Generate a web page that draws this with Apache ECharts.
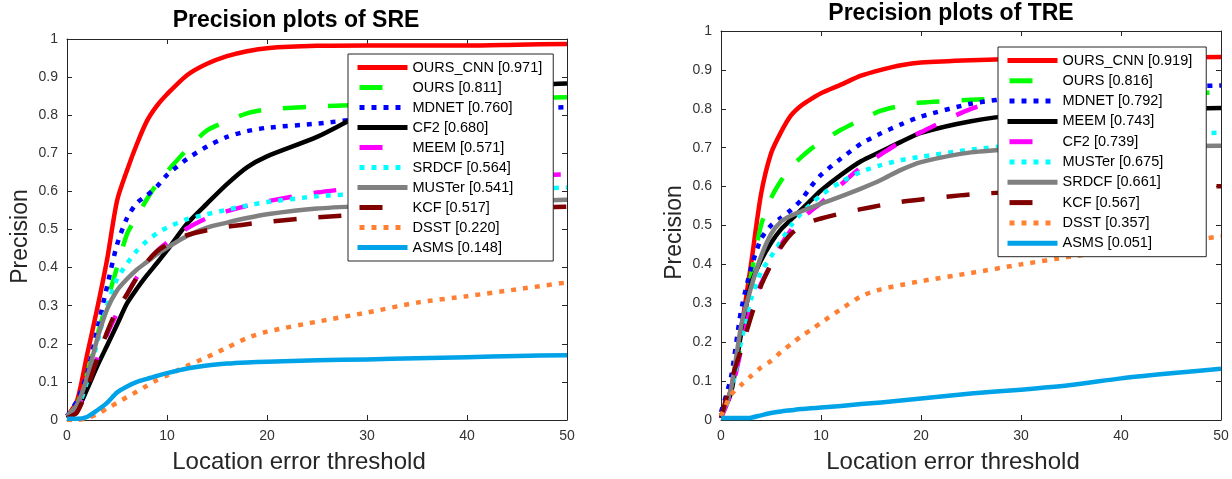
<!DOCTYPE html>
<html><head><meta charset="utf-8">
<script src="https://cdn.jsdelivr.net/npm/echarts@6/dist/echarts.min.js"></script>
<style>html,body{margin:0;padding:0;background:#fff}#c{width:1232px;height:479px}</style>
</head><body><div id="c"></div>
<script>
// ---------------- data ----------------
const thresholds = [0,1,2,3,4,5,6,7,8,9,10,12,14,16,18,20,25,30,35,40,45,50];

// SRE (left)
const sreMethods = ['OURS_CNN','OURS','MDNET','CF2','MEEM','SRDCF','MUSTer','KCF','DSST','ASMS'];
const sreScores  = ['0.971','0.811','0.760','0.680','0.571','0.564','0.541','0.517','0.220','0.148'];
const sreOursCnn = [0.01,0.05,0.17,0.29,0.42,0.575,0.655,0.725,0.785,0.825,0.855,0.905,0.935,0.955,0.968,0.976,0.982,0.983,0.983,0.983,0.985,0.987];
const sreOurs    = [0.01,0.04,0.12,0.22,0.31,0.40,0.488,0.535,0.58,0.62,0.652,0.71,0.76,0.784,0.805,0.815,0.823,0.828,0.835,0.84,0.844,0.847];
const sreMdnet   = [0.01,0.05,0.12,0.235,0.35,0.46,0.53,0.57,0.59,0.613,0.643,0.685,0.718,0.743,0.758,0.767,0.778,0.792,0.802,0.81,0.816,0.821];
const sreCf2     = [0.005,0.025,0.08,0.14,0.195,0.25,0.306,0.345,0.38,0.412,0.445,0.515,0.568,0.619,0.663,0.692,0.743,0.808,0.845,0.865,0.877,0.883];
const sreMeem    = [0.01,0.03,0.09,0.16,0.225,0.28,0.33,0.375,0.41,0.443,0.465,0.503,0.53,0.548,0.562,0.574,0.597,0.612,0.623,0.632,0.64,0.645];
const sreSrdcf   = [0.01,0.03,0.10,0.20,0.30,0.37,0.41,0.445,0.47,0.49,0.505,0.527,0.54,0.552,0.563,0.572,0.587,0.595,0.60,0.604,0.607,0.61];
const sreMuster  = [0.01,0.04,0.11,0.21,0.29,0.34,0.37,0.395,0.415,0.435,0.452,0.483,0.505,0.518,0.53,0.54,0.555,0.562,0.567,0.571,0.575,0.578];
const sreKcf     = [0.005,0.02,0.08,0.16,0.23,0.29,0.33,0.375,0.415,0.443,0.46,0.485,0.498,0.507,0.514,0.52,0.532,0.54,0.547,0.552,0.556,0.56];
const sreDsst    = [0.0,0.0,0.005,0.015,0.03,0.045,0.06,0.075,0.09,0.105,0.117,0.142,0.165,0.19,0.215,0.232,0.258,0.282,0.308,0.325,0.343,0.361];
const sreAsms    = [0.003,0.003,0.008,0.025,0.045,0.072,0.088,0.10,0.108,0.116,0.123,0.135,0.143,0.148,0.151,0.153,0.157,0.159,0.162,0.165,0.168,0.17];

// TRE (right)
const treMethods = ['OURS_CNN','OURS','MDNET','MEEM','CF2','MUSTer','SRDCF','KCF','DSST','ASMS'];
const treScores  = ['0.919','0.816','0.792','0.743','0.739','0.675','0.661','0.567','0.357','0.051'];
const treOursCnn = [0.01,0.08,0.23,0.40,0.58,0.685,0.74,0.783,0.808,0.825,0.84,0.862,0.885,0.90,0.912,0.919,0.925,0.928,0.93,0.931,0.932,0.933];
const treOurs    = [0.01,0.07,0.20,0.37,0.50,0.57,0.615,0.65,0.675,0.697,0.715,0.746,0.772,0.795,0.808,0.816,0.823,0.828,0.832,0.836,0.839,0.842];
const treMdnet   = [0.02,0.11,0.28,0.39,0.465,0.50,0.52,0.54,0.565,0.60,0.63,0.672,0.71,0.737,0.76,0.78,0.813,0.83,0.842,0.85,0.856,0.86];
const treMeem    = [0.01,0.07,0.22,0.35,0.41,0.455,0.49,0.515,0.54,0.565,0.59,0.63,0.665,0.69,0.715,0.738,0.768,0.785,0.793,0.797,0.80,0.802];
const treCf2     = [0.005,0.07,0.18,0.29,0.35,0.40,0.45,0.488,0.515,0.538,0.558,0.605,0.65,0.683,0.715,0.74,0.80,0.835,0.85,0.858,0.864,0.868];
const treMuster  = [0.01,0.07,0.20,0.31,0.38,0.42,0.46,0.50,0.53,0.555,0.578,0.612,0.638,0.655,0.668,0.677,0.695,0.708,0.718,0.726,0.733,0.739];
const treSrdcf   = [0.01,0.08,0.24,0.34,0.42,0.478,0.51,0.525,0.536,0.546,0.556,0.575,0.595,0.617,0.643,0.663,0.688,0.697,0.701,0.703,0.704,0.705];
const treKcf     = [0.005,0.10,0.18,0.265,0.345,0.40,0.445,0.478,0.497,0.51,0.518,0.531,0.542,0.552,0.561,0.567,0.58,0.587,0.592,0.596,0.599,0.601];
const treDsst    = [0.01,0.065,0.09,0.113,0.135,0.152,0.175,0.195,0.215,0.232,0.25,0.285,0.318,0.336,0.347,0.357,0.378,0.40,0.42,0.437,0.455,0.472];
const treAsms    = [0.005,0.005,0.005,0.006,0.012,0.018,0.022,0.025,0.028,0.03,0.032,0.036,0.041,0.045,0.05,0.055,0.068,0.078,0.09,0.107,0.12,0.132];

const sreValues = [sreOursCnn,sreOurs,sreMdnet,sreCf2,sreMeem,sreSrdcf,sreMuster,sreKcf,sreDsst,sreAsms];
const treValues = [treOursCnn,treOurs,treMdnet,treMeem,treCf2,treMuster,treSrdcf,treKcf,treDsst,treAsms];

// ---------------- styles (by rank) ----------------
const rankColors = ['#ff0000','#00ff00','#0000ff','#000000','#ff00ff','#00ffff','#808080','#800000','#ff8033','#00a2e8'];
const rankDash   = ['solid','dashed','dotted','solid','dashed','dotted','solid','dashed','dotted','solid'];
const FONT = 'Liberation Sans, Arial, Helvetica, sans-serif';
const LW = 4.5;
const DASH = [23, 22], DOT = [5, 7];

function lineType(t){ return t === 'dashed' ? DASH : (t === 'dotted' ? DOT : 'solid'); }
function legendLine(t){
  if (t === 'dashed') return {type:[23,40], dashOffset:61, width:5};
  if (t === 'dotted') return {type:[5,7], dashOffset:10, width:5};
  return {type:'solid', width:5};
}
function names(methods, scores){ return methods.map((m,i)=> m + ' [' + scores[i] + ']'); }

function buildSeries(nm, values, xi, yi){
  return nm.map((n,i)=>({
    name:n, type:'line', xAxisIndex:xi, yAxisIndex:yi,
    data: thresholds.map((x,k)=>[x, values[i][k]]),
    showSymbol:false, symbol:'none', smooth:0.25,
    lineStyle:{color:rankColors[i], width:LW, type:lineType(rankDash[i]), cap:'butt', join:'round'},
    itemStyle:{color:rankColors[i]},
    emphasis:{disabled:true}, silent:true, z:2
  }));
}

function axes(g){
  const lineC = '#262626';
  const common = {
    type:'value', gridIndex:g,
    axisLine:{show:true, onZero:false, lineStyle:{color:lineC, width:1}},
    axisTick:{show:true, inside:true, length:5, lineStyle:{color:lineC, width:1}},
    splitLine:{show:false}
  };
  const xb = Object.assign({}, common, {
    min:0, max:50, interval:10, position:'bottom',
    axisLabel:{color:'#333', fontSize:14, margin:9, fontFamily:FONT},
    name:'Location error threshold', nameLocation:'middle', nameGap:30,
    nameTextStyle:{fontSize:24, color:'#262626', fontFamily:FONT, padding:[0,36,0,0]}
  });
  const xt = Object.assign({}, common, {min:0, max:50, interval:10, position:'top', axisLabel:{show:false}});
  const yl = Object.assign({}, common, {
    min:0, max:1, interval:0.1, position:'left',
    axisLabel:{color:'#333', fontSize:14, margin:9, fontFamily:FONT},
    name:'Precision', nameLocation:'middle', nameGap:35,
    nameTextStyle:{fontSize:23, color:'#262626', fontFamily:FONT, padding:[0,14,0,0]}
  });
  const yr = Object.assign({}, common, {min:0, max:1, interval:0.1, position:'right', axisLabel:{show:false}});
  return {x:[xb, xt], y:[yl, yr]};
}

const sreNames = names(sreMethods, sreScores);
const treNames = names(treMethods, treScores);
const a0 = axes(0), a1 = axes(1);

function legend(nm, left, top, gap, padRight){
  return {
    show:true, orient:'vertical', left:left, top:top,
    data: nm.map((n,i)=>({name:n, lineStyle:legendLine(rankDash[i])})),
    itemWidth:50, itemHeight:14, itemGap:gap,
    padding:[6,padRight,6,7], borderColor:'#262626', borderWidth:1, backgroundColor:'#fff',
    textStyle:{fontSize:14.5, lineHeight:14, color:'#000', fontFamily:FONT},
    itemStyle:{opacity:0}, lineStyle:{width:5}, selectedMode:false, z:10
  };
}

const chart = echarts.init(document.getElementById('c'), null, {renderer:'canvas'});
chart.setOption({
  animation:false,
  backgroundColor:'#fff',
  title:[
    {text:'Precision plots of SRE', left:296, top:9, textAlign:'center', padding:0,
     textStyle:{fontSize:23, fontWeight:'bold', color:'#000', fontFamily:FONT}},
    {text:'Precision plots of TRE', left:951, top:2, textAlign:'center', padding:0,
     textStyle:{fontSize:23, fontWeight:'bold', color:'#000', fontFamily:FONT}}
  ],
  grid:[
    {left:67, top:39, width:500, height:386, containLabel:false},
    {left:721, top:31, width:500, height:393, containLabel:false}
  ],
  xAxis:[a0.x[0], a0.x[1], a1.x[0], a1.x[1]],
  yAxis:[a0.y[0], a0.y[1], a1.y[0], a1.y[1]],
  legend:[legend(sreNames, 348, 54, 5, 11), legend(treNames, 998, 47, 5.3, 14)],
  series:[].concat(buildSeries(sreNames, sreValues, 0, 0), buildSeries(treNames, treValues, 2, 2))
});
</script></body></html>
